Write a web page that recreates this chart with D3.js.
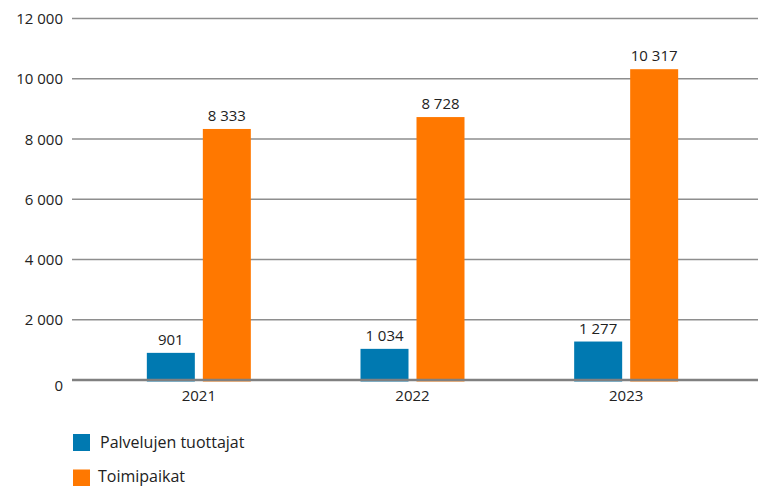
<!DOCTYPE html>
<html>
<head>
<meta charset="utf-8">
<script src="https://cdn.jsdelivr.net/npm/d3@7"></script>
<style>
  body { margin: 0; background: #fff; }
  text { font-family: "Open Sans", sans-serif; fill: #222; }
</style>
</head>
<body>
<svg id="chart" width="758" height="486"></svg>
<script>
var years = ["2021", "2022", "2023"];
var seriesNames = ["Palvelujen tuottajat", "Toimipaikat"];
var providers = [901, 1034, 1277];
var locations = [8333, 8728, 10317];
var yTicks = [0, 2000, 4000, 6000, 8000, 10000, 12000];
var colors = ["#0079b1", "#ff7800"];

var svg = d3.select("#chart");

var fmt = function(v) {
    return d3.format(",")(v).replace(/,/g, " ");
};

var y = d3.scaleLinear().domain([0, 12000]).range([380, 18.5]);
var x = d3.scaleBand().domain(years).range([92, 733]);
var xs = d3.scaleBand().domain(seriesNames)
    .range([x.bandwidth() / 2 - 52, x.bandwidth() / 2 + 52])
    .paddingInner(8 / 56);

// gridlines + y labels
var yAxis = svg.append("g");
yAxis.selectAll("line")
    .data(yTicks.filter(function(d) { return d > 0; }))
    .enter()
    .append("line")
    .attr("x1", 72).attr("x2", 758)
    .attr("y1", function(d) { return y(d); })
    .attr("y2", function(d) { return y(d); })
    .attr("stroke", "#8e8e8e")
    .attr("stroke-width", 1.3);

yAxis.selectAll("text")
    .data(yTicks)
    .enter()
    .append("text")
    .attr("x", 63)
    .attr("y", function(d) { return y(d) + (d == 0 ? 10.5 : 5.5); })
    .attr("text-anchor", "end")
    .style("font-size", "15px")
    .text(function(d) { return fmt(d); });

// bars
var rows = years.map(function(yr, i) {
    return {year: yr, values: [providers[i], locations[i]]};
});

var groups = svg.selectAll(".grp")
    .data(rows)
    .enter()
    .append("g")
    .attr("class", "grp")
    .attr("transform", function(d) { return "translate(" + x(d.year) + ",0)"; });

var bars = groups.selectAll("g")
    .data(function(d) {
        return d.values.map(function(v, j) { return {name: seriesNames[j], value: v, idx: j}; });
    })
    .enter()
    .append("g");

bars.append("rect")
    .attr("x", function(d) { return xs(d.name); })
    .attr("width", xs.bandwidth())
    .attr("y", function(d) { return y(d.value); })
    .attr("height", function(d) { return y(0) - y(d.value) + 1.5; })
    .attr("fill", function(d) { return colors[d.idx]; });

bars.append("text")
    .attr("x", function(d) { return xs(d.name) + xs.bandwidth() / 2; })
    .attr("y", function(d) { return y(d.value) - 8; })
    .attr("text-anchor", "middle")
    .style("font-size", "15px")
    .text(function(d) { return fmt(d.value); });

// baseline
svg.append("line")
    .attr("x1", 72).attr("x2", 758)
    .attr("y1", y(0)).attr("y2", y(0))
    .attr("stroke", "#808080")
    .attr("stroke-width", 2.5);

// x labels
svg.selectAll(".xl")
    .data(years)
    .enter()
    .append("text")
    .attr("class", "xl")
    .attr("x", function(d) { return x(d) + x.bandwidth() / 2; })
    .attr("y", 401)
    .attr("text-anchor", "middle")
    .style("font-size", "15px")
    .text(function(d) { return d; });

// legend
var legend = svg.selectAll(".lg")
    .data(seriesNames)
    .enter()
    .append("g")
    .attr("class", "lg")
    .attr("transform", function(d, i) { return "translate(73," + (434 + i * 35.5) + ")"; });

legend.append("rect")
    .attr("width", 17).attr("height", 17)
    .attr("fill", function(d, i) { return colors[i]; });

legend.append("text")
    .attr("x", function(d, i) { return i == 0 ? 27 : 25; })
    .attr("y", function(d, i) { return i == 0 ? 14 : 12.5; })
    .style("font-size", "16px")
    .text(function(d) { return d; });
</script>
</body>
</html>
